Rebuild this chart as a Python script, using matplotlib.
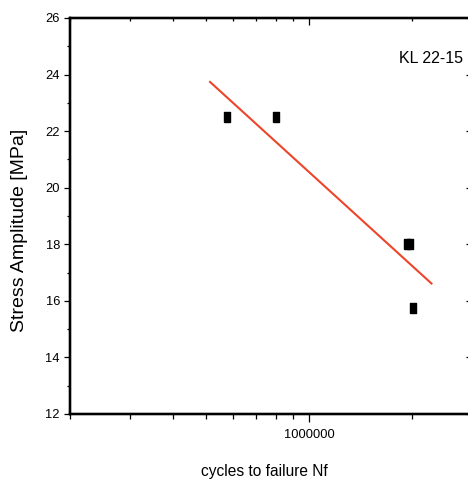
import numpy as np
import matplotlib
matplotlib.use("Agg")
import matplotlib.pyplot as plt
from matplotlib.ticker import LogLocator, FixedLocator, FixedFormatter, NullFormatter, MultipleLocator

# S-N data for specimen series KL 22-15
cycles = [5.78e5, 8.0e5, 1.93e6, 1.97e6, 2.01e6]
stress = [22.5, 22.5, 18.0, 18.0, 15.74]
fit_range = [5.14e5, 2.28e6]

series_label = "KL 22-15"
x_label = "cycles to failure Nf"
y_label = "Stress Amplitude [MPa]"
y_ticks = [12, 14, 16, 18, 20, 22, 24, 26]
x_major = [1e6]
x_major_labels = ["1000000"]

W, H = 468, 484
fig = plt.figure(figsize=(W / 100, H / 100), dpi=100)
fig.patch.set_facecolor("white")

regular = ["Liberation Sans", "DejaVu Sans"]

left_px, right_px, top_px, bottom_px = 69.7, 472.3, 18, 414
ax = fig.add_axes([left_px / W, (H - bottom_px) / H,
                   (right_px - left_px) / W, (bottom_px - top_px) / H])
ax.set_xscale("log")
ax.set_xlim(2e5, 3e6)
ax.set_ylim(12, 26)

# regression line in log(N)
logx = np.log10(cycles)
b, a = np.polyfit(logx, stress, 1)
xf = np.array(fit_range)
ax.plot(xf, a + b * np.log10(xf), color="#ec4529", lw=1.5, zorder=2)

# slightly narrow square markers
rect = [(-0.33, -0.5), (0.33, -0.5), (0.33, 0.5), (-0.33, 0.5), (-0.33, -0.5)]
ax.plot(cycles, stress, linestyle="none", marker=rect, markersize=7,
        color="black", zorder=3)

for s in ax.spines.values():
    s.set_linewidth(1.6)

ax.xaxis.set_major_locator(FixedLocator(x_major))
ax.xaxis.set_major_formatter(FixedFormatter(x_major_labels))
ax.xaxis.set_minor_locator(LogLocator(base=10, subs=np.arange(2, 10)))
ax.xaxis.set_minor_formatter(NullFormatter())
ax.yaxis.set_major_locator(FixedLocator(y_ticks))
ax.yaxis.set_minor_locator(MultipleLocator(1))

ax.tick_params(axis="x", which="major", direction="out", length=6, width=0.9, pad=5)
ax.tick_params(axis="x", which="minor", direction="out", length=3.6, width=0.9)
ax.tick_params(axis="y", which="major", direction="out", length=4, width=0.9, pad=3)
ax.tick_params(axis="y", which="minor", direction="out", length=2.5, width=0.9)
for lab in ax.get_xticklabels() + ax.get_yticklabels():
    lab.set_family(regular)
    lab.set_fontsize(9.3)

# mirrored inward ticks on top and right
axt = ax.twiny()
axt.set_xscale("log")
axt.set_xlim(ax.get_xlim())
axt.xaxis.set_major_locator(FixedLocator(x_major))
axt.xaxis.set_minor_locator(LogLocator(base=10, subs=np.arange(2, 10)))
axt.xaxis.set_major_formatter(NullFormatter())
axt.xaxis.set_minor_formatter(NullFormatter())
axt.tick_params(axis="x", which="major", direction="in", length=5, width=0.9)
axt.tick_params(axis="x", which="minor", direction="in", length=2.5, width=0.9)

axr = ax.twinx()
axr.set_ylim(ax.get_ylim())
axr.yaxis.set_major_locator(FixedLocator(y_ticks))
axr.yaxis.set_minor_locator(MultipleLocator(1))
axr.yaxis.set_major_formatter(NullFormatter())
axr.tick_params(axis="y", which="major", direction="in", length=4, width=0.9)
axr.tick_params(axis="y", which="minor", direction="in", length=2.5, width=0.9)
for a_ in (axt, axr):
    for s in a_.spines.values():
        s.set_linewidth(1.6)

fig.text(463 / W, (H - 63) / H, series_label, ha="right", va="baseline",
         family=regular, fontsize=11.5)
fig.text(264.5 / W, (H - 476) / H, x_label, ha="center", va="baseline",
         family=regular, fontsize=11.2)
fig.text(19.5 / W, (H - 230) / H, y_label, ha="center", va="center",
         rotation=90, family=regular, fontsize=14)

fig.savefig("out.png", dpi=100, facecolor="white")
